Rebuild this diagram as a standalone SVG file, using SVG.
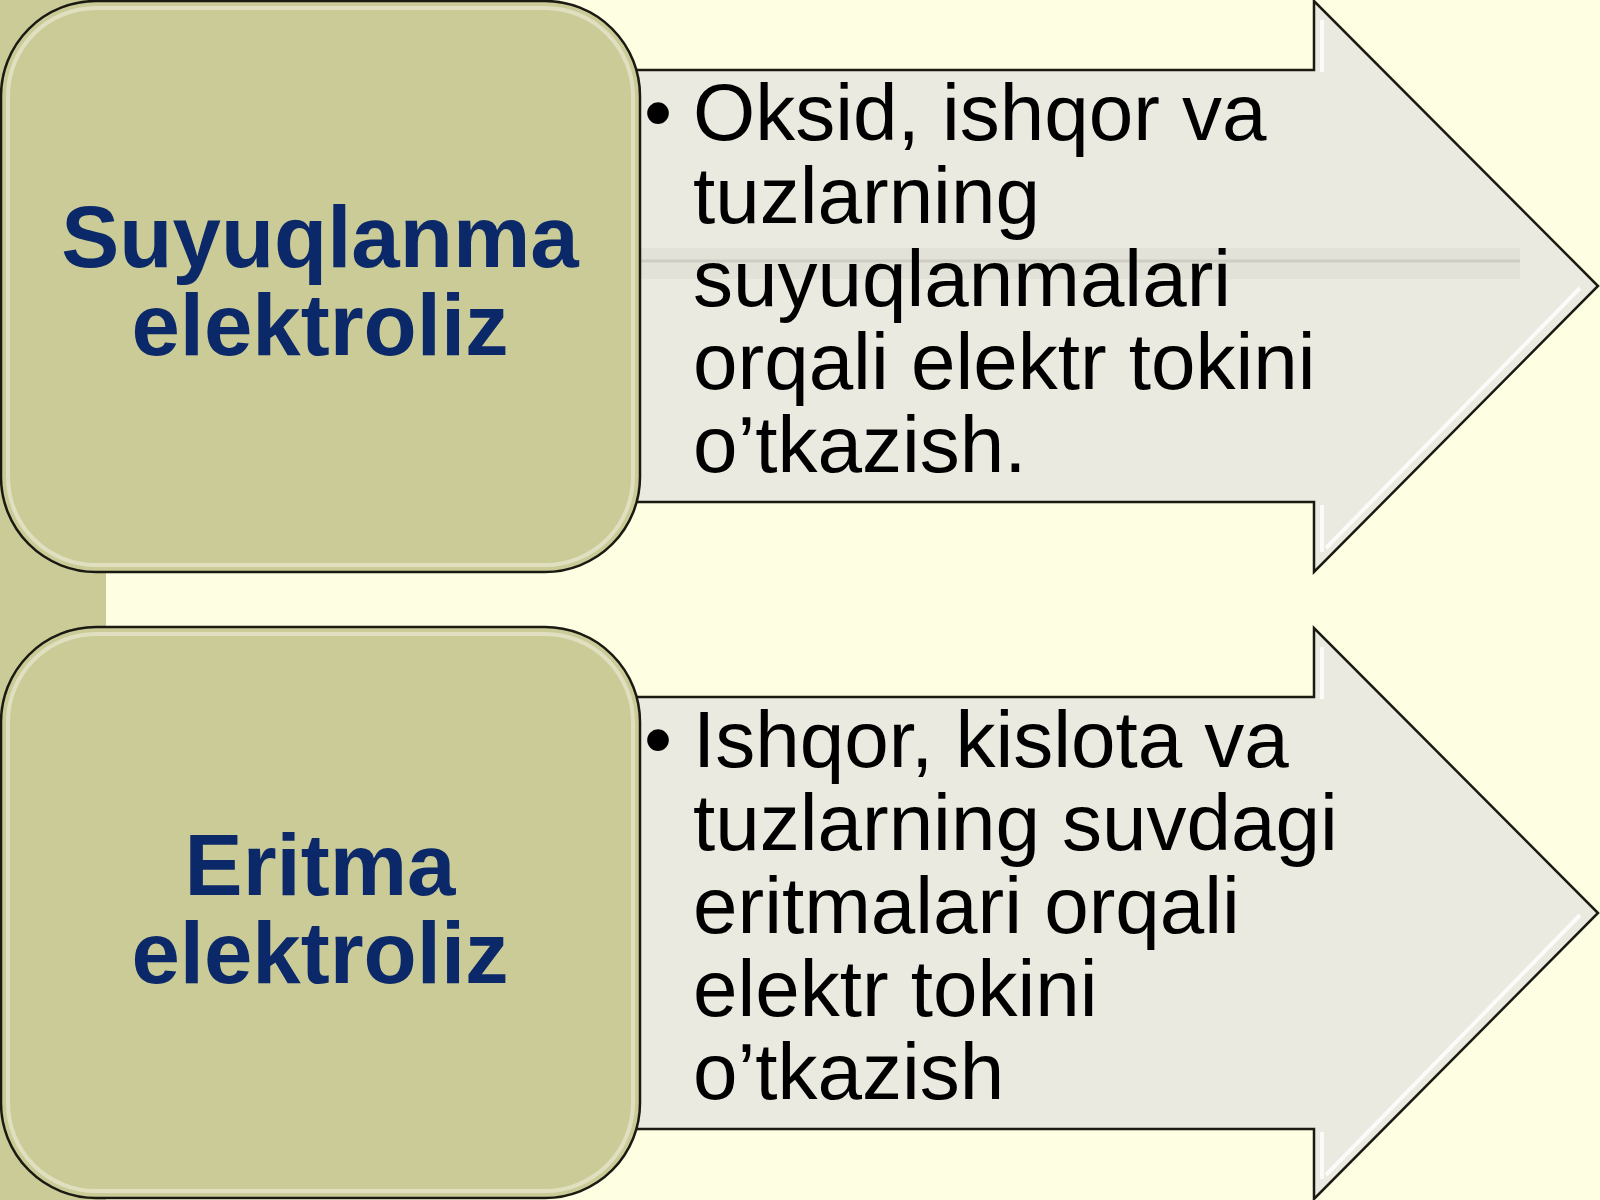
<svg xmlns="http://www.w3.org/2000/svg" width="1600" height="1200" viewBox="0 0 1600 1200">
  <defs>
    <style>
      .bg { fill: #fefee2; }
      .strip { fill: #cbcb98; }
      .box { fill: #cbcb98; stroke: #1a1a12; stroke-width: 2.5; }
      .boxhl { fill: none; stroke: #ffffff; stroke-opacity: 0.4; stroke-width: 4; }
      .arrow { fill: #ebeae0; stroke: #1a1a12; stroke-width: 2.5; stroke-linejoin: miter; }
      .arrowhl { fill: none; stroke: #ffffff; stroke-opacity: 0.8; stroke-width: 4; }
      .title { font-family: "Liberation Sans", Arial, sans-serif; font-weight: bold; font-size: 87px; fill: #0b2869; text-anchor: middle; }
      .body { font-family: "Liberation Sans", Arial, sans-serif; font-size: 80px; fill: #000000; }
    </style>
  </defs>
  <rect class="bg" x="0" y="0" width="1600" height="1200"/>
  <rect class="strip" x="0" y="0" width="106" height="1200"/>

  <g id="connectors">
    <g id="arrow1">
      <polygon class="arrow" points="600,70 1314,70 1314,1 1598,286 1314,572 1314,502 600,502"/>
      <polyline class="arrowhl" points="1322,20 1322,72"/>
      <polyline class="arrowhl" points="1322,552 1322,505"/>
      <polyline class="arrowhl" points="1326,548 1580,288"/>
      <rect x="640" y="248" width="880" height="31" fill="#e3e2d8"/>
      <line x1="640" y1="261" x2="1520" y2="261" stroke="#cfcdc3" stroke-width="3"/>
      <text class="body" x="644" y="140">•</text>
      <text class="body" x="693" y="140">Oksid, ishqor va</text>
      <text class="body" x="693" y="223">tuzlarning</text>
      <text class="body" x="693" y="306">suyuqlanmalari</text>
      <text class="body" x="693" y="389">orqali elektr tokini</text>
      <text class="body" x="693" y="472">o’tkazish.</text>
    </g>
    <g id="arrow2">
      <polygon class="arrow" points="600,697 1314,697 1314,628 1598,913 1314,1199 1314,1129 600,1129"/>
      <polyline class="arrowhl" points="1322,647 1322,699"/>
      <polyline class="arrowhl" points="1322,1179 1322,1132"/>
      <polyline class="arrowhl" points="1326,1175 1580,915"/>
      <text class="body" x="644" y="767">•</text>
      <text class="body" x="693" y="767">Ishqor, kislota va</text>
      <text class="body" x="693" y="850">tuzlarning suvdagi</text>
      <text class="body" x="693" y="933">eritmalari orqali</text>
      <text class="body" x="693" y="1016">elektr tokini</text>
      <text class="body" x="693" y="1099">o’tkazish</text>
    </g>
  </g>

  <g id="node1">
    <rect class="box" x="1" y="1" width="639" height="571" rx="95" ry="95"/>
    <rect class="boxhl" x="8" y="8" width="625" height="557" rx="88" ry="88"/>
    <text class="title" x="320" y="267">Suyuqlanma</text>
    <text class="title" x="320" y="355">elektroliz</text>
  </g>

  <g id="node2">
    <rect class="box" x="1" y="627" width="639" height="571" rx="95" ry="95"/>
    <rect class="boxhl" x="8" y="634" width="625" height="557" rx="88" ry="88"/>
    <text class="title" x="320" y="895">Eritma</text>
    <text class="title" x="320" y="983">elektroliz</text>
  </g>
</svg>
